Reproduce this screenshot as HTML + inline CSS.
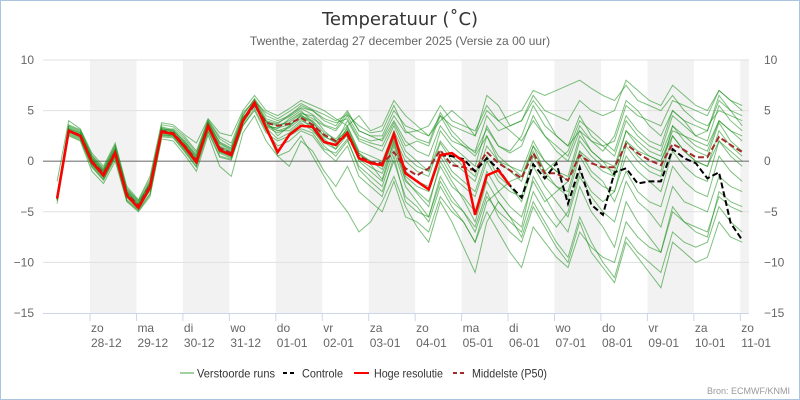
<!DOCTYPE html>
<html><head><meta charset="utf-8"><style>
html,body{margin:0;padding:0;background:#fff}
svg{display:block;font-family:"Liberation Sans",sans-serif}
</style></head><body>
<svg id="chart" width="800" height="400" viewBox="0 0 800 400">
<rect x="0.5" y="0.5" width="799" height="399" fill="#fff" stroke="#a9c5e2"/>
<text x="400" y="25" text-anchor="middle" font-size="18" fill="#333" font-family="DejaVu Sans, sans-serif">Temperatuur (˚C)</text>
<text x="400" y="45" text-anchor="middle" font-size="12" fill="#666">Twenthe, zaterdag 27 december 2025 (Versie za 00 uur)</text>
<g id="bands"></g><g id="grid"></g><g id="ens"></g><g id="main"></g><g id="axes"></g>
<g font-size="12" fill="#333">
<g><line x1="180" y1="373" x2="194" y2="373" stroke="#9fd29f" stroke-width="2"/><text x="197" y="377.5" textLength="78" lengthAdjust="spacingAndGlyphs">Verstoorde runs</text></g>
<g><line x1="283" y1="373" x2="296" y2="373" stroke="#000" stroke-width="2" stroke-dasharray="4,3"/><text x="302" y="377.5" textLength="41" lengthAdjust="spacingAndGlyphs">Controle</text></g>
<g><line x1="354" y1="373" x2="369" y2="373" stroke="#f00" stroke-width="2"/><text x="374" y="377.5" textLength="69" lengthAdjust="spacingAndGlyphs">Hoge resolutie</text></g>
<g><line x1="453" y1="373" x2="467" y2="373" stroke="#a52a2a" stroke-width="2" stroke-dasharray="4,3"/><text x="472" y="377.5" textLength="75" lengthAdjust="spacingAndGlyphs">Middelste (P50)</text></g>
</g>
<text x="790" y="394" text-anchor="end" font-size="9" fill="#999">Bron: ECMWF/KNMI</text>
</svg>
<script>
const yTicks=[10,5,0,-5,-10,-15];
const dayNames=["zo","ma","di","wo","do","vr","za","zo","ma","di","wo","do","vr","za","zo"];
const dayDates=["28-12","29-12","30-12","31-12","01-01","02-01","03-01","04-01","05-01","06-01","07-01","08-01","09-01","10-01","11-01"];
const hiRes=[-3.7,3.0,2.5,-0.1,-1.4,0.8,-3.4,-4.6,-2.6,2.9,2.7,1.4,-0.1,3.5,1.1,0.6,4.0,5.8,3.3,0.9,2.6,3.5,3.4,1.9,1.6,2.8,0.3,-0.2,-0.4,2.7,-1.2,-2.0,-2.8,0.6,0.8,0.0,-5.3,-1.4,-0.9,-2.4];
const control=[-3.7,3.0,2.5,-0.1,-1.4,0.8,-3.4,-4.6,-2.6,2.9,2.7,1.4,-0.1,3.5,1.1,0.6,4.0,5.8,3.3,0.9,2.6,3.5,3.4,1.9,1.6,2.8,0.3,-0.2,-0.4,2.7,-1.2,-2.0,-2.8,0.6,0.5,0.2,-1.0,0.3,-0.8,-2.4,-3.6,-0.3,-1.7,-0.2,-4.2,-0.6,-4.3,-5.3,-1.1,-0.7,-2.2,-2.0,-2.0,1.2,0.3,-0.2,-1.7,-1.1,-6.1,-7.8];
const p50=[-3.6,3.0,2.6,0.0,-1.2,0.9,-3.2,-4.4,-2.4,3.0,2.8,1.5,0.1,3.5,1.3,0.8,4.0,5.5,3.8,3.5,3.7,4.3,3.6,2.6,2.0,2.5,0.5,-0.1,-0.2,0.9,-0.7,-1.4,-0.7,1.1,-0.4,-0.6,-0.9,0.9,-0.2,-0.9,-1.7,0.8,-1.2,-1.2,-1.9,0.6,-0.2,-0.6,-0.6,1.7,0.8,0.1,-0.4,1.7,1.1,0.4,0.4,2.4,1.6,0.9];
const m1=[-3.5,3.3,2.8,0.3,-1.0,1.2,-3.0,-4.2,-2.0,3.3,3.0,2.0,0.5,3.8,1.8,1.2,4.3,5.5,3.8,3.5,4.0,4.8,4.2,3.5,3.0,4.5,2.5,2.0,2.2,4.5,2.8,3.0,3.5,5.5,4.0,3.5,3.0,5.5,4.0,4.5,5.0,7.0,6.5,7.0,7.5,8.0,7.2,6.5,6.0,7.5,6.0,5.5,5.0,6.5,5.0,4.0,3.5,5.0,4.5,4.0];
const m2=[-3.9,2.7,2.2,-0.5,-1.8,0.4,-3.8,-4.8,-3.2,2.5,2.4,1.0,-0.5,3.0,0.5,0.2,3.5,5.2,3.0,1.5,2.0,3.0,2.5,1.0,0.0,1.5,-1.5,-2.5,-3.5,0.5,-4.0,-5.0,-5.5,-2.0,-4.0,-5.0,-6.5,-3.0,-5.5,-7.0,-8.0,-4.5,-6.5,-8.5,-10.0,-6.0,-9.0,-10.5,-12.0,-8.0,-9.5,-11.0,-12.5,-8.0,-9.0,-10.0,-9.5,-6.0,-7.5,-8.0];
const m3=[-3.6,3.1,2.6,0.0,-1.2,1.0,-3.2,-4.4,-2.4,3.1,2.8,1.6,0.2,3.6,1.4,0.9,4.2,6.0,4.0,2.5,3.5,4.5,4.0,2.8,2.2,3.5,1.0,0.5,0.0,3.0,0.5,-0.5,-1.0,2.0,0.5,-0.5,-1.5,2.5,0.0,-1.0,-2.0,1.5,-1.0,-2.5,-3.5,0.5,-1.5,-2.5,-3.0,1.5,0.0,-1.0,-1.5,2.5,1.0,0.0,-0.5,3.0,1.5,0.5];
const m4=[-3.8,2.9,2.4,-0.2,-1.5,0.6,-3.5,-4.5,-2.8,2.7,2.6,1.2,-0.2,3.3,0.9,0.5,3.9,5.6,3.5,3.0,3.0,4.0,3.5,2.0,1.5,3.0,0.0,-1.0,-2.0,1.5,-2.0,-3.0,-4.0,-0.5,-2.5,-3.5,-5.0,-1.0,-3.0,-4.5,-5.5,-2.0,-4.0,-3.0,-2.0,1.0,0.0,-1.0,-1.5,2.0,1.0,0.5,0.0,3.0,2.5,2.0,1.5,4.0,3.0,2.5];
const m5=[-3.4,3.5,3.0,0.5,-0.8,1.5,-2.8,-4.0,-2.2,3.0,3.2,2.2,0.8,4.0,2.2,1.5,4.5,6.2,4.5,4.0,4.5,5.5,5.0,4.0,3.5,5.0,3.0,2.5,2.0,4.0,2.0,1.0,0.5,3.5,2.0,1.5,1.0,4.5,3.0,3.5,4.0,6.5,5.0,4.5,4.0,6.0,5.0,4.5,5.0,8.0,7.0,6.0,5.5,7.5,6.5,5.5,5.0,7.0,6.0,5.5];
const m6=[-3.7,3.0,2.5,-0.3,-1.6,0.7,-3.3,-4.6,-2.6,2.8,2.7,1.3,-0.1,3.4,1.0,0.4,3.8,5.7,3.2,0.5,-0.5,2.0,1.0,-1.0,-2.5,-0.5,-3.0,-4.0,-5.0,-2.0,-5.5,-6.0,-7.0,-3.5,-5.0,-6.0,-8.0,-4.0,-3.0,-2.0,-1.5,1.5,0.0,-1.0,-2.0,2.0,0.5,-0.5,-1.0,3.0,2.0,1.0,0.5,3.5,2.5,1.5,1.0,4.0,3.0,2.0];
const m7=[-3.6,3.2,2.6,0.1,-1.1,1.1,-3.1,-4.3,-2.3,3.2,2.9,1.7,0.3,3.7,1.5,1.0,4.1,5.9,3.9,3.6,3.8,4.7,4.5,3.0,2.0,3.0,0.8,0.0,-0.8,2.2,-1.0,-2.0,-2.5,1.0,-1.0,-2.0,-3.0,0.5,-1.5,-2.5,-4.0,-0.5,-2.5,-4.0,-5.5,-1.5,-3.5,-5.0,-6.0,-2.0,-4.0,-5.0,-6.5,-2.5,-4.0,-4.5,-5.0,-1.5,-2.5,-3.0];
const m8=[-3.5,3.0,2.7,0.2,-1.3,0.9,-3.4,-4.7,-2.7,2.6,2.5,1.5,0.0,3.2,1.2,0.7,4.4,5.4,3.6,3.2,4.2,5.0,3.8,2.5,1.8,4.0,2.0,1.5,1.0,3.5,1.0,0.0,-1.0,3.0,1.5,0.5,-0.5,3.5,1.5,1.0,2.5,5.5,3.5,2.5,1.5,4.5,2.5,1.5,0.5,4.0,2.5,1.5,1.0,4.5,3.5,2.5,2.0,5.5,4.0,3.0];
const m9=[-3.8,2.8,2.3,-0.4,-1.7,0.5,-3.6,-4.7,-2.9,2.6,2.5,1.1,-0.3,3.2,0.8,0.3,3.7,5.5,3.4,2.8,3.3,4.2,3.2,1.5,0.5,2.0,-0.5,-1.5,-2.5,1.0,-2.5,-4.0,-5.5,-1.5,-3.5,-5.0,-7.0,-3.5,-5.0,-6.0,-7.0,-3.0,-5.0,-6.5,-5.0,-1.0,-3.0,-4.0,-3.0,0.5,-1.0,-2.0,-3.0,1.0,-0.5,-1.5,-2.0,2.0,0.5,-0.5];
const m10=[-3.6,3.4,2.9,0.4,-0.9,1.3,-2.9,-4.1,-2.1,3.4,3.1,1.9,0.6,3.9,1.9,1.3,4.6,6.1,4.2,3.8,4.4,5.2,4.6,3.6,3.2,4.8,3.0,2.5,2.5,5.0,3.5,3.0,2.5,4.5,2.5,1.5,0.5,2.5,0.5,-0.5,-1.5,1.0,-1.0,0.0,1.0,4.0,3.0,2.0,1.0,4.5,3.0,2.0,1.5,5.0,4.0,3.5,3.0,6.0,5.0,4.5];
const m11=[-3.7,3.1,2.5,0.0,-1.4,0.8,-3.3,-4.5,-2.5,3.0,2.8,1.4,0.0,3.5,1.2,0.6,4.0,5.8,3.4,3.3,3.6,4.4,3.9,2.4,1.9,3.2,0.6,0.0,-0.5,2.4,0.0,-1.0,-1.5,1.8,0.0,-1.0,-2.0,1.5,0.0,-0.5,-1.0,2.0,0.0,-1.0,-1.5,2.5,1.0,0.0,-0.5,3.0,1.5,0.5,0.0,2.5,1.0,0.0,-0.5,2.0,1.0,0.0];
const m12=[-3.9,2.6,2.1,-0.6,-1.9,0.3,-3.9,-4.9,-3.3,2.4,2.3,0.9,-0.6,2.9,0.4,0.1,3.5,5.0,2.8,2.0,2.5,3.2,2.8,1.2,0.8,2.2,-0.8,-2.0,-3.0,0.0,-3.5,-4.5,-6.0,-2.5,-4.5,-6.0,-8.0,-5.0,-7.0,-9.0,-10.5,-6.5,-8.0,-9.5,-10.5,-7.0,-8.5,-9.5,-10.0,-6.0,-7.5,-8.5,-9.0,-5.0,-6.0,-6.5,-7.0,-3.5,-4.5,-5.0];
const m13=[-3.5,3.2,2.8,0.3,-1.0,1.2,-3.0,-4.3,-2.2,3.2,3.0,1.8,0.4,3.8,1.7,1.1,4.2,5.6,4.0,3.7,4.6,5.3,5.0,4.2,3.8,4.2,2.2,1.8,1.5,3.8,1.5,2.0,1.5,4.5,3.5,3.0,2.5,5.0,4.0,3.0,2.0,4.0,2.5,1.5,0.5,3.5,2.0,1.5,2.0,5.5,4.5,4.0,3.5,6.0,5.5,5.0,4.5,7.0,6.0,5.0];
const m14=[-3.7,2.9,2.4,-0.1,-1.3,0.7,-3.4,-4.6,-2.7,2.8,2.6,1.3,-0.2,3.4,1.0,0.5,3.9,5.7,3.3,2.2,2.8,3.8,3.0,1.8,1.2,2.6,0.2,-0.6,-1.2,1.8,-1.5,-2.5,-3.0,0.5,-1.5,-2.5,-3.5,0.0,-2.0,-3.0,-3.5,0.5,-1.5,-2.5,-3.0,1.0,-1.0,-2.0,-4.0,-1.0,-3.0,-4.0,-4.5,-0.5,-2.0,-3.0,-3.5,0.5,-1.0,-2.0];
const m15=[-2.0,4.0,3.2,0.8,-0.5,1.8,-2.5,-3.8,-1.5,3.8,3.6,2.6,1.8,4.2,2.8,2.5,5.0,6.5,5.0,4.5,5.2,6.0,5.5,5.0,4.2,3.5,4.5,3.0,3.5,6.0,4.5,3.5,2.5,4.0,5.0,4.0,2.5,6.5,5.5,3.5,4.0,6.0,4.5,2.5,1.5,3.0,2.0,1.0,2.5,6.0,5.0,3.5,2.5,5.0,4.0,2.5,3.0,6.5,5.0,3.5];
const m16=[-4.2,2.5,2.0,-1.0,-2.2,0.0,-4.0,-5.0,-3.5,2.2,2.0,0.6,-1.0,2.6,-0.5,-1.5,2.8,4.5,2.0,0.5,1.0,2.5,0.5,-1.5,-3.5,-5.0,-7.0,-6.0,-4.0,-1.5,-4.5,-6.5,-8.0,-4.0,-6.0,-8.5,-11.0,-6.0,-4.0,-5.5,-7.5,-4.0,-6.0,-8.0,-9.5,-5.5,-8.0,-10.0,-11.5,-7.5,-9.0,-10.0,-11.0,-7.0,-8.0,-8.5,-8.0,-4.5,-6.0,-7.0];
const m17=[-3.3,3.6,3.1,0.6,-0.7,1.6,-2.7,-3.9,-1.8,3.6,3.4,2.4,1.0,4.1,2.4,1.8,4.8,5.9,4.8,4.2,4.9,5.7,5.1,4.6,4.0,4.6,3.5,2.8,3.0,5.5,3.0,2.2,1.8,4.8,3.0,1.8,0.8,3.2,1.5,0.8,1.5,4.5,2.5,1.0,0.0,3.0,1.0,0.0,-1.5,2.0,0.5,-0.5,-1.0,3.5,2.0,1.0,0.5,3.8,2.0,1.0];
const m18=[-3.6,3.0,2.6,0.1,-1.2,0.9,-3.2,-4.5,-2.5,3.0,2.8,1.6,0.1,3.6,1.3,0.8,4.1,5.6,3.7,3.0,3.4,4.6,3.6,2.2,1.2,3.4,0.8,-0.3,-1.8,2.0,-1.8,-3.2,-4.5,0.0,-2.0,-3.8,-6.0,-2.0,-4.0,-5.5,-6.5,-1.5,-3.5,-5.5,-7.0,-2.5,-5.0,-6.5,-8.5,-4.0,-6.0,-7.5,-9.0,-4.5,-6.0,-7.0,-7.5,-3.0,-4.0,-4.5];
const members=[m1,m2,m3,m4,m5,m6,m7,m8,m9,m10,m11,m12,m13,m14,m15,m16,m17,m18];

const NS="http://www.w3.org/2000/svg";
const PL=43,PR=749,PT=60,PB=313,DAY=46.45,X0=90;
function xH(h){return X0+(h-24)*DAY/24;}
function xI(i){return xH(7+6*i);}
function y(v){return PT+(10-v)*(PB-PT)/25;}
function mk(tag,attrs,parent){const e=document.createElementNS(NS,tag);for(const k in attrs)e.setAttribute(k,attrs[k]);parent.appendChild(e);return e;}
const bands=document.getElementById('bands'),grid=document.getElementById('grid'),ens=document.getElementById('ens'),main=document.getElementById('main'),axes=document.getElementById('axes');
dayNames.forEach((d,k)=>{
  const x0=xH(24*(k+1));
  if(k%2===0){const x1=Math.min(xH(24*(k+2)),PR);
    const r=mk('rect',{x:x0,y:PT,width:x1-x0,height:PB-PT,fill:'#f2f2f2'},bands);
    
    }
  const t=mk('line',{x1:x0,y1:PB,x2:x0,y2:PB+8,stroke:'#ccd6eb'},axes);
  
  
  const l1=mk('text',{x:x0+1,y:332,'font-size':12,fill:'#666'},axes);l1.textContent=d;
  
  
  const l2=mk('text',{x:x0+1,y:347,'font-size':12,fill:'#666'},axes);l2.textContent=dayDates[k];
  
  
});
yTicks.forEach(v=>{
  if(v!==-15&&v!==0){const g=mk('line',{x1:PL,x2:PR,y1:y(v),y2:y(v),stroke:'#e0e0e0'},grid);
    
    }
  const a=mk('text',{x:34,y:y(v)+4,'text-anchor':'end','font-size':12,fill:'#666'},axes);a.textContent=v===0?'0':(v<0?'−'+(-v):v);
  
  
  const b=mk('text',{x:764,y:y(v)+4,'font-size':12,fill:'#666'},axes);b.textContent=v===0?'0':(v<0?'−'+(-v):v);
  
  
});
const zl=mk('line',{x1:PL,x2:PR,y1:y(0),y2:y(0),stroke:'#777','stroke-width':1.2},grid);


const ax=mk('line',{x1:PL,x2:PR,y1:PB+0.5,y2:PB+0.5,stroke:'#ccd6eb'},axes);


function pts(a){return a.map((v,i)=>xI(i).toFixed(1)+','+y(v).toFixed(1)).join(' ');}
members.forEach(m=>{
  const p=mk('polyline',{points:pts(m),fill:'none',stroke:'rgba(20,140,20,0.55)','stroke-width':1},ens);
  
  
});
const pp=mk('polyline',{points:pts(p50),fill:'none',stroke:'#a52a2a','stroke-width':2,'stroke-dasharray':'6,3'},main);


const cl=mk('polyline',{points:pts(control),fill:'none',stroke:'#000','stroke-width':2,'stroke-dasharray':'6,3'},main);


const hr=mk('polyline',{points:pts(hiRes),fill:'none',stroke:'#f00','stroke-width':2.5},main);


</script>
</body></html>
